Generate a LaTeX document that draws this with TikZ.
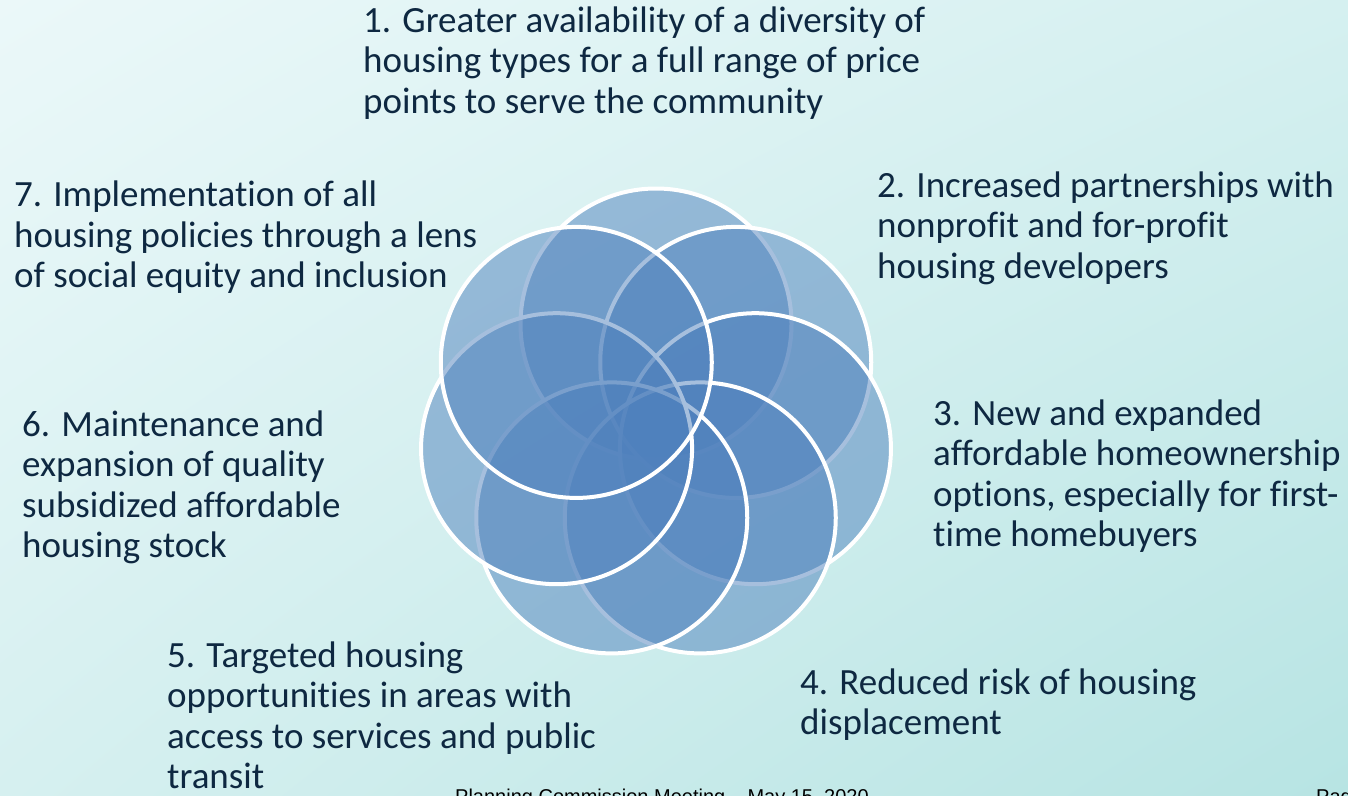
\documentclass[tikz,border=0pt]{standalone}
\usepackage{fontspec}
\setmainfont{Carlito}[Ligatures={NoCommon}]
\newfontfamily\footfont{Liberation Sans}
\usetikzlibrary{calc,shadings}
\definecolor{bgTL}{HTML}{EBF8F9}
\definecolor{bgTR}{HTML}{D5F0F0}
\definecolor{bgBL}{HTML}{D6F0F0}
\definecolor{bgBR}{HTML}{B7E4E3}
\definecolor{txtcol}{HTML}{0E2841}
\definecolor{ringblue}{HTML}{4F81BD}
\tikzset{
  label text/.style={anchor=base west, inner sep=0pt, align=left, text=txtcol,
    font=\fontsize{37}{40.5}\selectfont},
  foot text/.style={anchor=base west, inner sep=0pt, text=black,
    font=\footfont\fontsize{20}{24}\selectfont},
  petal/.style={circle, minimum size=271pt, inner sep=0pt, fill=ringblue,
    fill opacity=0.5, draw=white, draw opacity=1, line width=4pt},
}
\begin{document}
\begin{tikzpicture}[x=1pt,y=-1pt]
\useasboundingbox (0,0) rectangle (1348,795);
\clip (0,0) rectangle (1348,795);
\shade[upper left=bgTL, upper right=bgTR, lower left=bgBL, lower right=bgBR]
  (0,0) rectangle (1348,795);
\coordinate (ctr) at (656,426);
\foreach \k in {1,...,7}{
  \node[petal] (p\k) at ($(ctr)+({-90+51.4286*(\k-1)}:102)$) {};
}
% anchors are at the baseline of each block's last line
\node[label text] (t1) at (363,113) {1. Greater availability of a diversity of\\housing types for a full range of price\\points to serve the community};
\node[label text] (t2) at (877,278) {2. Increased partnerships with\\nonprofit and for-profit\\housing developers};
\node[label text] (t3) at (933,546.5) {3. New and expanded\\affordable homeownership\\options, especially for first-\\time homebuyers};
\node[label text] (t4) at (800,734.5) {4. Reduced risk of housing\\displacement};
\node[label text] (t5) at (167,788.5) {5. Targeted housing\\opportunities in areas with\\access to services and public\\transit};
\node[label text] (t6) at (22,557.5) {6. Maintenance and\\expansion of quality\\subsidized affordable\\housing stock};
\node[label text] (t7) at (14,287.5) {7. Implementation of all\\housing policies through a lens\\of social equity and inclusion};
\node[foot text] (f1) at (455,803) {Planning Commission Meeting – May 15, 2020};
\node[foot text] (f2) at (1316,803) {Page};
\end{tikzpicture}
\end{document}
